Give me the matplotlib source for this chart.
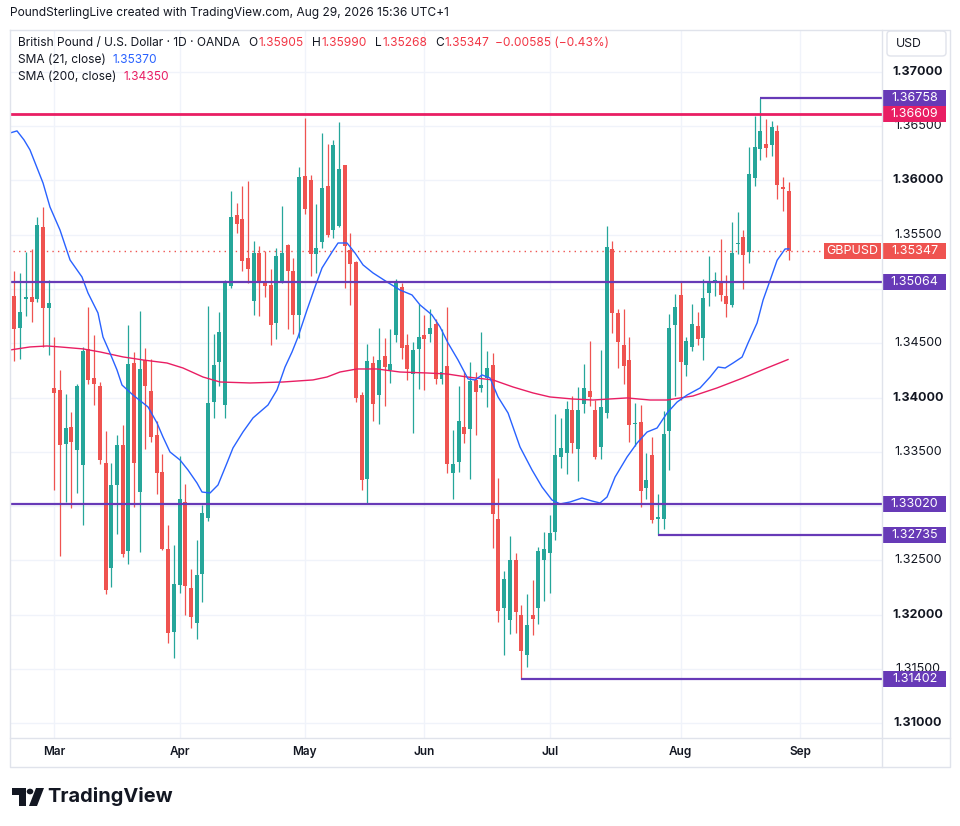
import numpy as np
import pandas as pd
import matplotlib
matplotlib.use("Agg")
import matplotlib.pyplot as plt
from matplotlib.patches import Rectangle, Circle, Polygon, FancyBboxPatch
from matplotlib.lines import Line2D

plt.rcParams['font.family'] = ['Inter', 'DejaVu Sans']

# ---- data (GBP/USD daily, OANDA) ----
first_day = '2026-02-18'
opens = [1.3565, 1.34936, 1.34645, 1.34912, 1.34927, 1.34912, 1.35569, 1.34829,
         1.34089, 1.34071, 1.33567, 1.33730, 1.33512, 1.33374, 1.34445, 1.34178,
         1.34107, 1.33392, 1.32425, 1.33193, 1.33564, 1.32582, 1.34322, 1.33128,
         1.34344, 1.34061, 1.33656, 1.33315, 1.32606, 1.31836, 1.32269, 1.33039,
         1.32247, 1.31922, 1.32373, 1.32887, 1.33962, 1.34330, 1.33931, 1.35032,
         1.35683, 1.35646, 1.35287, 1.34885, 1.35333, 1.35069, 1.35038, 1.34688,
         1.35057, 1.35407, 1.35164, 1.34765, 1.36042, 1.36005, 1.35318, 1.35437,
         1.35950, 1.35548, 1.35582, 1.36143, 1.35360, 1.35250, 1.34019, 1.33245,
         1.34320, 1.34019, 1.34384, 1.34255, 1.34578, 1.35020, 1.34480, 1.34221,
         1.34451, 1.34574, 1.34589, 1.34678, 1.34175, 1.34291, 1.33300, 1.33410,
         1.33730, 1.33714, 1.34159, 1.34086, 1.34181, 1.34304, 1.32882, 1.32056,
         1.31946, 1.32505, 1.31998, 1.31623, 1.31995, 1.32056, 1.32499, 1.32566,
         1.32760, 1.33456, 1.33493, 1.33886, 1.33530, 1.33944, 1.34058, 1.33886,
         1.33548, 1.33855, 1.35367, 1.34780, 1.34485, 1.34347, 1.33755, 1.33776,
         1.33162, 1.33472, 1.32883, 1.32883, 1.33687, 1.34664, 1.34946, 1.34295,
         1.34470, 1.34660, 1.34553, 1.34967, 1.35069, 1.35078, 1.34937, 1.34854,
         1.35413, 1.35480, 1.35342, 1.36027, 1.36294, 1.36337, 1.36330, 1.36456,
         1.35938, 1.35905]
highs = [1.3566, 1.35167, 1.35145, 1.35345, 1.35369, 1.35660, 1.35753, 1.35084,
         1.34556, 1.34255, 1.34031, 1.33868, 1.34129, 1.34467, 1.34835, 1.34577,
         1.34144, 1.33693, 1.33398, 1.33650, 1.33748, 1.34669, 1.34424, 1.34795,
         1.34457, 1.34356, 1.33785, 1.33475, 1.32827, 1.32643, 1.33463, 1.33205,
         1.32422, 1.32689, 1.33012, 1.34844, 1.34583, 1.34786, 1.35083, 1.35904,
         1.35793, 1.35950, 1.35996, 1.35443, 1.35397, 1.35348, 1.35186, 1.35379,
         1.35763, 1.35416, 1.35287, 1.36125, 1.36576, 1.36051, 1.35781, 1.36438,
         1.36337, 1.36374, 1.36539, 1.36146, 1.35517, 1.35260, 1.34053, 1.34495,
         1.34384, 1.34642, 1.34550, 1.34633, 1.35094, 1.35057, 1.34587, 1.34510,
         1.34859, 1.34761, 1.34813, 1.34721, 1.34635, 1.34835, 1.33696, 1.34107,
         1.34236, 1.34328, 1.34233, 1.34604, 1.34429, 1.34411, 1.33254, 1.32403,
         1.32726, 1.32569, 1.32087, 1.32192, 1.32321, 1.32625, 1.32762, 1.32920,
         1.33850, 1.33812, 1.33972, 1.34015, 1.34098, 1.34310, 1.34522, 1.33975,
         1.34439, 1.35581, 1.35443, 1.34817, 1.34817, 1.34559, 1.33948, 1.33933,
         1.33491, 1.33638, 1.33113, 1.33878, 1.34771, 1.34952, 1.35066, 1.34559,
         1.34863, 1.34792, 1.35093, 1.35305, 1.35158, 1.35462, 1.35130, 1.35618,
         1.35710, 1.35545, 1.36306, 1.36598, 1.36758, 1.36564, 1.36545, 1.36512,
         1.36036, 1.35990]
lows = [1.3490, 1.34341, 1.34353, 1.34755, 1.34700, 1.34884, 1.34464, 1.34396,
        1.33143, 1.32536, 1.33033, 1.32978, 1.33116, 1.32827, 1.34123, 1.33932,
        1.33383, 1.32189, 1.32250, 1.32738, 1.32530, 1.32462, 1.32990, 1.32573,
        1.33524, 1.33586, 1.33107, 1.32597, 1.31737, 1.31599, 1.32198, 1.31998,
        1.31873, 1.31777, 1.32115, 1.32860, 1.33814, 1.34104, 1.33809, 1.35005,
        1.35520, 1.35170, 1.35051, 1.34765, 1.34747, 1.34922, 1.34480, 1.34535,
        1.35051, 1.34633, 1.34581, 1.34544, 1.35695, 1.35124, 1.35143, 1.35382,
        1.35480, 1.35471, 1.35572, 1.35005, 1.34848, 1.33955, 1.33150, 1.33024,
        1.33786, 1.33752, 1.33924, 1.34136, 1.34516, 1.34351, 1.34163, 1.33677,
        1.34079, 1.34070, 1.34512, 1.34126, 1.34123, 1.33300, 1.33063, 1.33309,
        1.33585, 1.33245, 1.33654, 1.34049, 1.33908, 1.32615, 1.31927, 1.31630,
        1.31823, 1.31829, 1.31402, 1.31513, 1.31808, 1.31909, 1.32121, 1.32195,
        1.32683, 1.33346, 1.33291, 1.33493, 1.33229, 1.33855, 1.33926, 1.33432,
        1.33432, 1.33809, 1.34599, 1.34268, 1.34126, 1.33592, 1.33549, 1.32990,
        1.33064, 1.32843, 1.32735, 1.32788, 1.33328, 1.34010, 1.33975, 1.34194,
        1.34433, 1.34485, 1.34350, 1.34839, 1.34931, 1.34885, 1.34743, 1.34836,
        1.35327, 1.34998, 1.35244, 1.35953, 1.36192, 1.36220, 1.36229, 1.35833,
        1.35717, 1.35268]
closes = [1.3493, 1.34635, 1.34786, 1.34921, 1.34884, 1.35590, 1.34829, 1.34872,
          1.34046, 1.33558, 1.33721, 1.33586, 1.34107, 1.34430, 1.34157, 1.34120,
          1.33426, 1.32229, 1.33196, 1.33558, 1.32560, 1.34313, 1.33401, 1.34264,
          1.34110, 1.33640, 1.33300, 1.32606, 1.31826, 1.32284, 1.33067, 1.32260,
          1.31977, 1.32367, 1.32938, 1.33947, 1.34300, 1.34601, 1.35053, 1.35665,
          1.35603, 1.35262, 1.35180, 1.35333, 1.35069, 1.35032, 1.34664, 1.35305,
          1.35336, 1.35170, 1.34756, 1.36030, 1.35741, 1.35318, 1.35379, 1.35932,
          1.35499, 1.36328, 1.36107, 1.35400, 1.35235, 1.34000, 1.33236, 1.34338,
          1.33942, 1.34348, 1.34283, 1.34311, 1.35060, 1.34458, 1.34265, 1.34439,
          1.34555, 1.34543, 1.34641, 1.34166, 1.34233, 1.33383, 1.33389, 1.33785,
          1.33668, 1.34156, 1.34055, 1.34116, 1.34273, 1.32928, 1.32035, 1.32330,
          1.32505, 1.32021, 1.31666, 1.31906, 1.31961, 1.32588, 1.32606, 1.32751,
          1.33469, 1.33533, 1.33892, 1.33585, 1.33886, 1.34086, 1.34009, 1.33456,
          1.33911, 1.35384, 1.34783, 1.34513, 1.34292, 1.33743, 1.33761, 1.33135,
          1.33242, 1.32874, 1.32895, 1.33666, 1.34645, 1.34836, 1.34323, 1.34522,
          1.34679, 1.34535, 1.34918, 1.35069, 1.35084, 1.34949, 1.34866, 1.35333,
          1.35422, 1.35317, 1.36060, 1.36306, 1.36453, 1.36303, 1.36493, 1.35962,
          1.35925, 1.35347]

# SMA lines (bar position, value)
sma21_x = [1.22, 2.45, 3.68, 4.73, 7.02, 8.24, 10.0, 11.76, 13.86, 14.92, 16.67, 17.55,
           18.78, 20.01, 20.89, 22.82, 25.46, 27.04, 28.09, 29.32, 31.08, 32.48, 34.06,
           34.94, 36.35, 37.75, 39.33, 40.38, 42.14, 43.9, 46.53, 48.11, 49.52, 50.75,
           51.8, 53.38, 54.79, 56.02, 57.78, 58.83, 60.41, 61.81, 63.22, 64.97, 67.43,
           69.71, 71.82, 73.23, 75.33, 76.74, 78.14, 79.9, 81.66, 82.89, 84.12, 85.52,
           86.93, 88.69, 90.79, 92.9, 94.66, 96.41, 97.82, 99.57, 101.68, 103.44,
           104.84, 106.07, 107.48, 109.59, 111.34, 113.1, 114.86, 116.61, 118.37,
           120.13, 122.41, 124.17, 125.58, 126.81, 128.21, 129.79, 130.84, 132.42,
           133.48, 134.71, 135.94, 137.34, 138.0]
sma21_y = [1.36438, 1.36457, 1.36374, 1.36282, 1.35977, 1.35756, 1.35544, 1.35268,
           1.35111, 1.34963, 1.34779, 1.34558, 1.34410, 1.34254, 1.34115, 1.34023,
           1.33913, 1.33765, 1.33636, 1.33498, 1.33424, 1.33332, 1.33212, 1.33129,
           1.33120, 1.33194, 1.33397, 1.33535, 1.33683, 1.33812, 1.33931, 1.34070,
           1.34281, 1.34420, 1.34558, 1.34807, 1.35019, 1.35194, 1.35341, 1.35424,
           1.35424, 1.35332, 1.35222, 1.35148, 1.35065, 1.34991, 1.34945, 1.34853,
           1.34761, 1.34651, 1.34503, 1.34346, 1.34171, 1.34162, 1.34208, 1.34180,
           1.34005, 1.33857, 1.33544, 1.33332, 1.33175, 1.33055, 1.33019, 1.33037,
           1.33074, 1.33046, 1.33028, 1.33083, 1.33267, 1.33452, 1.33580, 1.33682,
           1.33719, 1.33857, 1.33958, 1.34023, 1.34088, 1.34189, 1.34281, 1.34272,
           1.34318, 1.34373, 1.34503, 1.34687, 1.34899, 1.35081, 1.35265, 1.35369,
           1.35370]
sma200_x = [1.22, 4.73, 7.72, 10.0, 14.04, 17.03, 21.07, 24.58, 28.79, 31.6, 35.11,
            38.1, 43.37, 49.16, 54.43, 56.89, 59.17, 62.16, 65.67, 69.71, 74.45,
            77.97, 81.48, 86.04, 89.56, 93.07, 96.05, 100.09, 103.6, 109.57, 113.61,
            116.6, 121.16, 125.38, 129.94, 134.16, 137.85]
sma200_y = [1.34438, 1.34466, 1.34475, 1.34466, 1.34448, 1.34420, 1.34374, 1.34346,
            1.34318, 1.34272, 1.34189, 1.34143, 1.34134, 1.34143, 1.34162, 1.34189,
            1.34235, 1.34263, 1.34263, 1.34235, 1.34226, 1.34217, 1.34189, 1.34162,
            1.34097, 1.34042, 1.34005, 1.33986, 1.33977, 1.33996, 1.33977, 1.33977,
            1.34014, 1.34088, 1.34180, 1.34272, 1.34350]

# support / resistance levels: (price, starting bar or None for full width)
level_prices = [1.36758, 1.36609, 1.35064, 1.33020, 1.32735, 1.31402]
level_start = [133, None, None, None, 115, 91]
level_colors = ['#673ab7', '#e91e63', '#673ab7', '#673ab7', '#673ab7', '#673ab7']
last_price = 1.35347

GREEN = '#26a69a'
RED = '#ef5350'
TXT = '#131722'
BORDER = '#e0e3eb'
GRID = '#f0f3fa'

W, H = 960, 826


def fx(px):
    return px / W


def fy(py):
    return 1 - py / H


fig = plt.figure(figsize=(9.6, 8.26), dpi=100)
fig.patch.set_facecolor('white')

ax = fig.add_axes([fx(10), fy(738), fx(882) - fx(10), fy(30) - fy(738)])
ax.set_xlim(1.22, 154.36)
ax.set_ylim(1.30862, 1.37387)
for s in ax.spines.values():
    s.set_visible(False)
ax.set_xticks([])
ax.set_yticks([])


def axx(px):
    # pixel x -> axes fraction
    return (px - 10) / 872.0


px_per_price = 708 / (1.37387 - 1.30862)

# grid
grid_prices = np.round(np.arange(1.310, 1.3701, 0.005), 3)
for g in grid_prices:
    ax.axhline(g, color=GRID, lw=1, zorder=0)

dates = pd.bdate_range(first_day, periods=160)
month_pos = []
month_lab = []
for i in range(1, len(dates)):
    if dates[i].month != dates[i - 1].month and i + 1 < 154:
        month_pos.append(i + 1)
        month_lab.append(dates[i].strftime('%b'))
for m in month_pos:
    ax.axvline(m, color=GRID, lw=1, zorder=0)

# candles
o = np.array(opens)
h = np.array(highs)
l = np.array(lows)
c = np.array(closes)
x = np.arange(1, len(o) + 1)
cols = np.where(c >= o, GREEN, RED)
ax.vlines(x, l, h, colors=cols, lw=0.9, zorder=3)
body_lo = np.minimum(o, c)
body_h = np.maximum(np.abs(c - o), 1.2 / px_per_price)
ax.bar(x, body_h, bottom=body_lo, width=0.7, color=cols, linewidth=0, zorder=3)

# moving averages
ax.plot(sma200_x, sma200_y, color='#e91e63', lw=1.0, zorder=4)
ax.plot(sma21_x, sma21_y, color='#2962ff', lw=1.0, zorder=4)

# levels
for p, st, col in zip(level_prices, level_start, level_colors):
    lw = 2.0 if col == '#e91e63' else 1.6
    if st is None:
        ax.axhline(p, color=col, lw=lw, zorder=5)
    else:
        ax.plot([st, 160], [p, p], color=col, lw=lw, zorder=5, solid_capstyle='butt')

ax.axhline(last_price, xmin=axx(13), xmax=axx(824), color=RED, lw=1,
           linestyle=(0, (1, 3)), zorder=2)

# panel frame
fig.add_artist(Line2D([fx(10), fx(950), fx(950), fx(10), fx(10)],
                      [fy(30), fy(30), fy(767), fy(767), fy(30)], color=BORDER, lw=1))
fig.add_artist(Line2D([fx(882), fx(882)], [fy(30), fy(767)], color=BORDER, lw=1))
fig.add_artist(Line2D([fx(10), fx(950)], [fy(738), fy(738)], color=BORDER, lw=1))

# price scale labels (skip the ones hidden under a level tag)
ytr = ax.get_yaxis_transform()
tag_prices = level_prices + [last_price]
for g in grid_prices:
    if min(abs(g - t) for t in tag_prices) * px_per_price < 8:
        continue
    whole = abs(g * 100 - round(g * 100)) < 1e-6
    ax.text(axx(918), g, f'{g:.5f}', transform=ytr, ha='center', va='center',
            fontsize=9, color=TXT, weight='bold' if whole else 'normal',
            clip_on=False, zorder=3)


def tag(price, color, label, x0=883, x1=946):
    hh = 16 / px_per_price
    ax.add_patch(Rectangle((axx(x0), price - hh / 2), axx(x1) - axx(x0), hh,
                           transform=ytr, fc=color, ec='none', clip_on=False, zorder=8))
    ax.text(axx((x0 + x1) / 2), price, label, transform=ytr, ha='center', va='center',
            fontsize=9, color='white', clip_on=False, zorder=9)


for p, col in zip(level_prices, level_colors):
    tag(p, col, f'{p:.5f}')
tag(last_price, RED, f'{last_price:.5f}')
tag(last_price, RED, 'GBPUSD', 824, 881)

# USD box
fig.add_artist(FancyBboxPatch((fx(887), fy(56)), fx(946) - fx(887), fy(31) - fy(56),
                              boxstyle='round,pad=0,rounding_size=0.004',
                              transform=fig.transFigure, fc='white', ec=BORDER, lw=1))
fig.text(fx(896), fy(44), 'USD', fontsize=8.8, color=TXT, va='center', ha='left')

# time axis labels
for m, lab in zip(month_pos, month_lab):
    ax.text(m, -0.0198, lab, transform=ax.get_xaxis_transform(), ha='center', va='center',
            fontsize=8.5, color=TXT, weight='semibold', clip_on=False)

# header texts
fig.text(fx(10), fy(13), 'PoundSterlingLive created with TradingView.com, Aug 29, 2026 15:36 UTC+1',
         fontsize=8.6, color=TXT, va='center', ha='left')


def chain(parts, x0, y0, size=8.6):
    t = fig.text(fx(x0), fy(y0), parts[0][0], color=parts[0][1], fontsize=size,
                 va='center', ha='left')
    for s, col, gap in parts[1:]:
        t = ax.annotate(s, xy=(1, 0.5), xycoords=t, xytext=(gap, 0),
                        textcoords='offset points', va='center', ha='left',
                        color=col, fontsize=size, annotation_clip=False)
    return t


VRED = '#f23645'
chain([('British Pound / U.S. Dollar · 1D · OANDA', TXT, 0),
       ('O', TXT, 6), ('1.35905', VRED, 0.5),
       ('H', TXT, 6), ('1.35990', VRED, 0.5),
       ('L', TXT, 6), ('1.35268', VRED, 0.5),
       ('C', TXT, 6), ('1.35347', VRED, 0.5),
       ('−0.00585 (−0.43%)', VRED, 4)], 18, 43)
chain([('SMA (21, close)', TXT, 0), ('1.35370', '#2962ff', 5)], 18, 60)
chain([('SMA (200, close)', TXT, 0), ('1.34350', '#e91e63', 5)], 18, 77)

# TradingView logo
LOGO = '#131722'


def P(px, py):
    return (fx(px), fy(py))


fig.add_artist(Polygon([P(12, 788), P(26, 788), P(26, 806), P(19, 806), P(19, 795), P(12, 795)],
                       closed=True, transform=fig.transFigure, fc=LOGO, ec='none'))
fig.add_artist(Circle(P(30, 791.5), 3.3 / W, transform=fig.transFigure, fc=LOGO, ec='none'))
fig.add_artist(Polygon([P(36, 788), P(44, 788), P(37, 806), P(29, 806)], closed=True,
                       transform=fig.transFigure, fc=LOGO, ec='none'))
fig.text(fx(47), fy(797), 'TradingView', fontsize=14.4, weight='bold', color=LOGO,
         va='center', ha='left')

fig.savefig('out.png', dpi=100, facecolor='white')
